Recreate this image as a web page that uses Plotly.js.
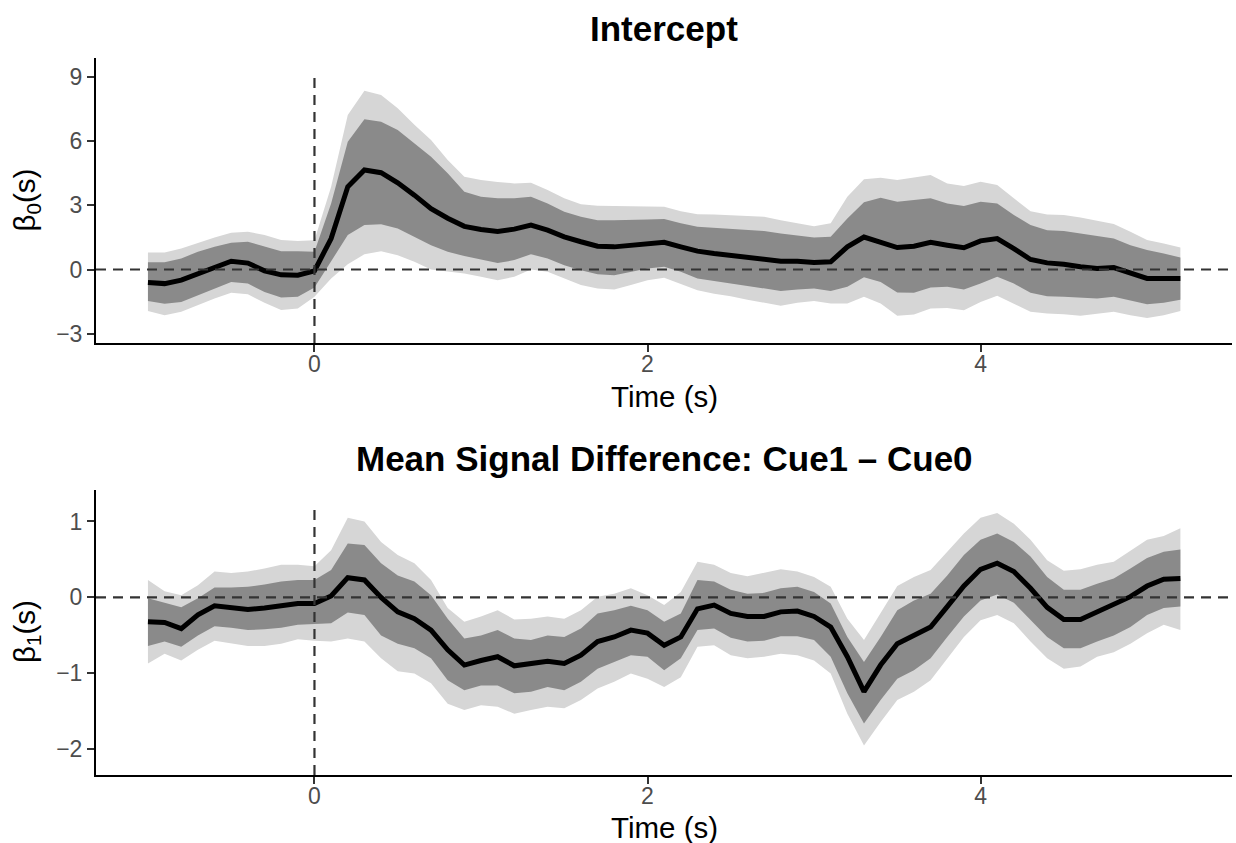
<!DOCTYPE html>
<html>
<head>
<meta charset="utf-8">
<script src="https://cdn.plot.ly/plotly-3.0.1.min.js"></script>
<style>html,body{margin:0;padding:0;background:#fff;}#chart{width:1236px;height:843px;}</style>
</head>
<body>
<div id="chart"></div>
<script>
// Time grid (s)
var time = [-1.0,-0.9,-0.8,-0.7,-0.6,-0.5,-0.4,-0.3,-0.2,-0.1,
  0.0,0.1,0.2,0.3,0.4,0.5,0.6,0.7,0.8,0.9,
  1.0,1.1,1.2,1.3,1.4,1.5,1.6,1.7,1.8,1.9,
  2.0,2.1,2.2,2.3,2.4,2.5,2.6,2.7,2.8,2.9,
  3.0,3.1,3.2,3.3,3.4,3.5,3.6,3.7,3.8,3.9,
  4.0,4.1,4.2,4.3,4.4,4.5,4.6,4.7,4.8,4.9,
  5.0,5.1,5.2];

// Panel 1: Intercept beta0(s)
var b0_mean = [-0.61,-0.66,-0.50,-0.19,0.12,0.39,0.30,-0.06,-0.25,-0.27,
  -0.06,1.45,3.87,4.66,4.53,4.06,3.48,2.85,2.40,2.02,
  1.87,1.78,1.89,2.08,1.84,1.53,1.30,1.09,1.06,1.14,
  1.22,1.27,1.06,0.86,0.75,0.67,0.56,0.48,0.39,0.39,
  0.33,0.36,1.06,1.52,1.30,1.03,1.09,1.27,1.14,1.02,
  1.34,1.45,0.98,0.47,0.31,0.25,0.13,0.05,0.09,-0.16,
  -0.42,-0.42,-0.42];
var b0_inner_hi = [0.34,0.34,0.52,0.83,1.06,1.25,1.30,1.09,0.86,0.86,
  0.83,3.09,5.98,7.03,6.92,6.53,5.91,5.28,4.50,3.64,
  3.40,3.33,3.33,3.40,3.09,2.70,2.47,2.31,2.31,2.31,
  2.34,2.36,2.16,2.00,1.95,1.92,1.84,1.80,1.69,1.58,
  1.50,1.53,2.39,3.15,3.36,3.17,3.25,3.33,3.09,2.97,
  3.17,3.09,2.55,2.08,1.84,1.80,1.69,1.56,1.45,1.14,
  0.91,0.75,0.56];
var b0_inner_lo = [-1.47,-1.60,-1.52,-1.20,-0.89,-0.58,-0.66,-1.05,-1.31,-1.28,
  -0.84,0.36,1.61,2.08,2.12,1.92,1.53,1.14,0.83,0.63,
  0.47,0.30,0.44,0.72,0.52,0.20,-0.03,-0.22,-0.27,-0.11,
  0.05,0.13,-0.11,-0.42,-0.55,-0.66,-0.77,-0.89,-1.00,-0.94,
  -0.89,-1.00,-0.81,-0.36,-0.58,-1.08,-1.09,-0.84,-0.81,-0.94,
  -0.66,-0.34,-0.66,-1.09,-1.25,-1.28,-1.31,-1.36,-1.28,-1.47,
  -1.63,-1.56,-1.41];
var b0_outer_hi = [0.80,0.80,0.98,1.25,1.50,1.72,1.77,1.61,1.38,1.34,
  1.37,3.87,7.23,8.37,8.17,7.55,6.77,6.06,5.13,4.34,
  4.19,4.10,4.03,4.06,3.72,3.33,3.06,2.98,2.97,2.94,
  2.94,2.94,2.73,2.59,2.58,2.55,2.52,2.47,2.31,2.16,
  2.03,2.16,3.40,4.22,4.30,4.19,4.30,4.42,4.03,3.91,
  4.11,3.95,3.33,2.73,2.58,2.55,2.44,2.28,2.13,1.77,
  1.38,1.22,1.03];
var b0_outer_lo = [-1.94,-2.14,-1.98,-1.67,-1.36,-1.09,-1.16,-1.56,-1.90,-1.83,
  -1.28,-0.42,0.25,0.72,0.86,0.67,0.36,0.00,-0.08,-0.19,
  -0.34,-0.50,-0.34,0.00,-0.11,-0.42,-0.73,-0.89,-0.94,-0.73,
  -0.50,-0.38,-0.66,-0.97,-1.13,-1.25,-1.41,-1.55,-1.70,-1.56,
  -1.47,-1.59,-1.59,-1.28,-1.59,-2.17,-2.11,-1.83,-1.80,-1.91,
  -1.52,-1.23,-1.59,-1.98,-2.06,-2.09,-2.17,-2.06,-1.98,-2.14,
  -2.27,-2.14,-1.94];

// Panel 2: Mean Signal Difference beta1(s)
var b1_mean = [-0.32,-0.33,-0.41,-0.23,-0.11,-0.14,-0.16,-0.14,-0.11,-0.08,
  -0.08,0.02,0.26,0.23,0.00,-0.19,-0.28,-0.43,-0.69,-0.89,
  -0.83,-0.78,-0.90,-0.87,-0.84,-0.87,-0.76,-0.58,-0.52,-0.43,
  -0.47,-0.63,-0.52,-0.15,-0.10,-0.21,-0.25,-0.25,-0.19,-0.18,
  -0.25,-0.39,-0.78,-1.24,-0.89,-0.61,-0.50,-0.39,-0.12,0.15,
  0.37,0.45,0.34,0.12,-0.13,-0.29,-0.29,-0.19,-0.10,0.01,
  0.15,0.24,0.25];
var b1_inner_hi = [-0.01,-0.07,-0.13,-0.01,0.13,0.13,0.14,0.17,0.21,0.23,
  0.23,0.36,0.71,0.69,0.45,0.29,0.21,0.03,-0.28,-0.54,
  -0.50,-0.43,-0.54,-0.56,-0.50,-0.52,-0.41,-0.21,-0.17,-0.11,
  -0.17,-0.32,-0.21,0.23,0.21,0.10,0.05,0.06,0.12,0.14,
  0.07,-0.08,-0.52,-0.85,-0.52,-0.17,-0.04,0.05,0.29,0.56,
  0.76,0.84,0.73,0.54,0.27,0.10,0.10,0.18,0.25,0.38,
  0.52,0.60,0.63];
var b1_inner_lo = [-0.64,-0.58,-0.65,-0.50,-0.38,-0.40,-0.43,-0.42,-0.40,-0.36,
  -0.35,-0.34,-0.20,-0.23,-0.50,-0.61,-0.67,-0.80,-1.09,-1.22,
  -1.16,-1.16,-1.26,-1.24,-1.18,-1.22,-1.11,-0.94,-0.85,-0.76,
  -0.78,-0.96,-0.80,-0.43,-0.41,-0.53,-0.58,-0.57,-0.51,-0.51,
  -0.56,-0.78,-1.26,-1.66,-1.35,-1.07,-0.96,-0.80,-0.52,-0.25,
  -0.04,0.04,-0.07,-0.30,-0.52,-0.67,-0.67,-0.58,-0.50,-0.39,
  -0.23,-0.14,-0.12];
var b1_outer_hi = [0.23,0.08,0.03,0.16,0.34,0.32,0.34,0.38,0.43,0.43,
  0.41,0.62,1.05,1.00,0.73,0.56,0.45,0.23,-0.14,-0.32,
  -0.25,-0.17,-0.29,-0.28,-0.25,-0.28,-0.17,0.01,0.05,0.12,
  0.03,-0.10,0.07,0.47,0.43,0.32,0.28,0.32,0.37,0.34,
  0.27,0.14,-0.28,-0.56,-0.21,0.15,0.27,0.36,0.60,0.84,
  1.05,1.11,0.97,0.76,0.49,0.35,0.37,0.43,0.47,0.62,
  0.76,0.81,0.91];
var b1_outer_lo = [-0.87,-0.74,-0.83,-0.69,-0.57,-0.61,-0.64,-0.64,-0.61,-0.55,
  -0.57,-0.58,-0.54,-0.58,-0.80,-0.97,-1.00,-1.13,-1.40,-1.48,
  -1.42,-1.44,-1.53,-1.48,-1.44,-1.46,-1.35,-1.20,-1.11,-1.00,
  -1.07,-1.18,-1.05,-0.65,-0.63,-0.76,-0.80,-0.78,-0.74,-0.76,
  -0.83,-1.00,-1.53,-1.95,-1.64,-1.35,-1.24,-1.09,-0.80,-0.52,
  -0.30,-0.23,-0.34,-0.58,-0.80,-0.94,-0.91,-0.78,-0.72,-0.61,
  -0.47,-0.36,-0.43];

// Axis ticks
var xTickVals = [0, 2, 4];
var xTickText = ["0", "2", "4"];
var y0TickVals = [-3, 0, 3, 6, 9];
var y0TickText = ["\u22123", "0", "3", "6", "9"];
var y1TickVals = [-2, -1, 0, 1];
var y1TickText = ["\u22122", "\u22121", "0", "1"];

var LIGHT = "#D6D6D6", DARK = "#8A8A8A";
var FONT = "Liberation Sans, Arial, Helvetica, sans-serif";

function band(xa, ya, mean, ilo, ihi, olo, ohi) {
  var base = {x: time, xaxis: xa, yaxis: ya, mode: "lines", type: "scatter",
              hoverinfo: "skip", showlegend: false};
  return [
    Object.assign({}, base, {y: olo, line: {width: 0, color: LIGHT}}),
    Object.assign({}, base, {y: ohi, line: {width: 0, color: LIGHT}, fill: "tonexty", fillcolor: LIGHT}),
    Object.assign({}, base, {y: ilo, line: {width: 0, color: DARK}}),
    Object.assign({}, base, {y: ihi, line: {width: 0, color: DARK}, fill: "tonexty", fillcolor: DARK}),
    Object.assign({}, base, {y: mean, line: {width: 5, color: "#000000"}})
  ];
}

var data = band("x", "y", b0_mean, b0_inner_lo, b0_inner_hi, b0_outer_lo, b0_outer_hi)
  .concat(band("x2", "y2", b1_mean, b1_inner_lo, b1_inner_hi, b1_outer_lo, b1_outer_hi));

var xRange = [-1.312, 5.51];
var y0Range = [-3.44, 9.9];
var y1Range = [-2.337, 1.414];

function xAxis(anchor) {
  return {domain: [0, 1], anchor: anchor, range: xRange, tickvals: xTickVals, ticktext: xTickText,
    showline: true, linecolor: "#000000", linewidth: 2, ticks: "outside", ticklen: 7, tickwidth: 2,
    tickcolor: "#333333", tickfont: {size: 23, color: "#4D4D4D", family: FONT},
    ticklabelstandoff: -8,
    showgrid: false, zeroline: false, fixedrange: true};
}
function yAxis(anchor, dom, rng, tv, tt) {
  return {domain: dom, anchor: anchor, range: rng, tickvals: tv, ticktext: tt,
    showline: true, linecolor: "#000000", linewidth: 2, ticks: "outside", ticklen: 7, tickwidth: 2,
    tickcolor: "#333333", tickfont: {size: 23, color: "#4D4D4D", family: FONT},
    showgrid: false, zeroline: false, fixedrange: true};
}

var dashLine = {color: "#333333", width: 2.2, dash: "10px,7px"};

var layout = {
  width: 1236, height: 843,
  margin: {l: 96, r: 4, t: 58, b: 68},
  paper_bgcolor: "#FFFFFF", plot_bgcolor: "#FFFFFF",
  font: {family: FONT, color: "#000000"},
  showlegend: false,
  xaxis: xAxis("y"),
  yaxis: yAxis("x", [0.6025, 1], y0Range, y0TickVals, y0TickText),
  xaxis2: xAxis("y2"),
  yaxis2: yAxis("x2", [0, 0.3975], y1Range, y1TickVals, y1TickText),
  shapes: [
    {type: "line", xref: "x", yref: "y", x0: xRange[0], x1: xRange[1], y0: 0, y1: 0, line: dashLine, layer: "above"},
    {type: "line", xref: "x", yref: "y", x0: 0, x1: 0, y0: y0Range[0], y1: 9, line: dashLine, layer: "above"},
    {type: "line", xref: "x2", yref: "y2", x0: xRange[0], x1: xRange[1], y0: 0, y1: 0, line: dashLine, layer: "above"},
    {type: "line", xref: "x2", yref: "y2", x0: 0, x1: 0, y0: y1Range[0], y1: 1.15, line: dashLine, layer: "above"}
  ],
  annotations: [
    {text: "<b>Intercept</b>", xref: "paper", yref: "paper", x: 0.5, y: 1.0418, xanchor: "center", yanchor: "middle",
     showarrow: false, font: {size: 35, family: FONT, color: "#000000"}},
    {text: "<b>Mean Signal Difference: Cue1 \u2013 Cue0</b>", xref: "paper", yref: "paper", x: 0.5, y: 0.4421,
     xanchor: "center", yanchor: "middle", showarrow: false, font: {size: 35, family: FONT, color: "#000000"}},
    {text: "Time (s)", xref: "paper", yref: "paper", x: 0.5, y: 0.5272, xanchor: "center", yanchor: "middle",
     showarrow: false, font: {size: 29.5, family: FONT, color: "#000000"}},
    {text: "Time (s)", xref: "paper", yref: "paper", x: 0.5, y: -0.0739, xanchor: "center", yanchor: "middle",
     showarrow: false, font: {size: 29.5, family: FONT, color: "#000000"}},
    {text: "\u03B2<sub>0</sub>(s)", xref: "paper", yref: "paper", x: -0.0616, y: 0.8013, xanchor: "center", yanchor: "middle",
     textangle: -90, showarrow: false, font: {size: 29.5, family: FONT, color: "#000000"}},
    {text: "\u03B2<sub>1</sub>(s)", xref: "paper", yref: "paper", x: -0.0616, y: 0.1994, xanchor: "center", yanchor: "middle",
     textangle: -90, showarrow: false, font: {size: 29.5, family: FONT, color: "#000000"}}
  ]
};

Plotly.newPlot("chart", data, layout, {displayModeBar: false, staticPlot: true});
</script>
</body>
</html>
